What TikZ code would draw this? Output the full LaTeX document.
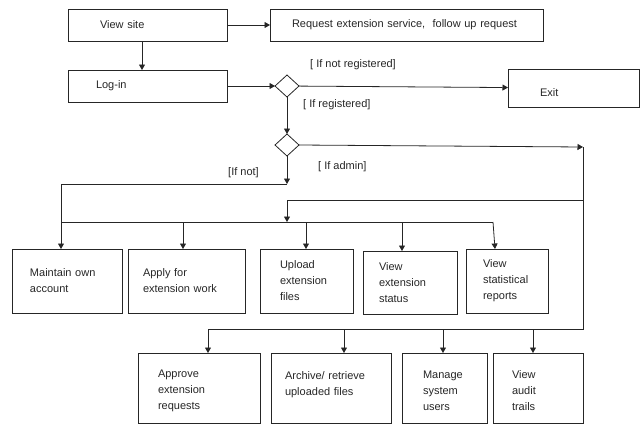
\documentclass[tikz,border=0pt]{standalone}
\usepackage{fontspec}
\setmainfont{Liberation Sans}
\usetikzlibrary{arrows.meta,shapes.geometric}

\tikzset{
  base/.style={line width=0.8pt, draw=black!85},
  pbox/.style={base, rectangle, align=left, inner ysep=0pt, outer sep=0pt,
               font=\fontsize{11}{16}\selectfont, text=black!85},
  lowtext/.style={text height=#1},
  choice/.style={base, diamond, minimum width=24pt, minimum height=22pt,
                 inner sep=0pt, outer sep=0pt},
  guard/.style={anchor=west, inner sep=0pt, font=\fontsize{11}{16}\selectfont, text=black!85},
  arr/.style={base, -{Triangle[length=5.5pt,width=6pt]}},
  wire/.style={base}
}

\begin{document}
\begin{tikzpicture}[x=1pt,y=-1pt]
\useasboundingbox (0,0) rectangle (643,424);

% entry and login
\node[pbox, text width=95pt, inner xsep=32pt, minimum height=32pt] (view) at (147.5,25) {View site};
\node[pbox, text width=229pt, inner xsep=22pt, minimum height=32pt] (req) at (406.5,25) {Request extension service,~ follow up request};
\node[pbox, text width=103pt, inner xsep=28pt, minimum height=32pt] (login) at (147.5,86) {Log-in};
\node[pbox, text width=67pt, inner xsep=32pt, minimum height=38pt, lowtext=17.5pt] (exit) at (573.5,88) {Exit};

% decisions
\node[choice] (d1) at (287,86) {};
\node[choice] (d2) at (287,145) {};

% user activities
\node[pbox, text width=74pt, inner xsep=18pt, minimum height=64pt] (maintain) at (67,281) {Maintain own\\account};
\node[pbox, text width=87pt, inner xsep=15pt, minimum height=64pt] (apply) at (186.5,281) {Apply for\\extension work};
\node[pbox, text width=53pt, inner xsep=20pt, minimum height=64pt] (upload) at (306.5,281) {Upload\\extension\\files};
\node[pbox, text width=62pt, inner xsep=16pt, minimum height=63pt] (vstatus) at (410,282.5) {View\\extension\\status};
\node[pbox, text width=48pt, inner xsep=17pt, minimum height=64pt] (vreports) at (507,281) {View\\statistical\\reports};

% admin activities
\node[pbox, text width=82pt, inner xsep=20pt, minimum height=70pt, lowtext=14pt] (approve) at (199,388) {Approve\\extension\\requests};
\node[pbox, text width=92pt, inner xsep=14pt, minimum height=70pt, lowtext=14pt] (archive) at (331,388) {Archive/ retrieve\\uploaded files\\~};
\node[pbox, text width=43pt, inner xsep=21pt, minimum height=70pt, lowtext=14pt] (manage) at (444.5,388) {Manage\\system\\users};
\node[pbox, text width=52pt, inner xsep=19pt, minimum height=70pt, lowtext=14pt] (audit) at (538,388) {View\\audit\\trails};

% guard labels
\node[guard] (gnotreg) at (310,65) {[ If not registered]};
\node[guard] (greg) at (303,105) {[ If registered]};
\node[guard] (gnot) at (228,173) {[If not]};
\node[guard] (gadmin) at (318,167) {[ If admin]};

% routing points
\coordinate (adminin) at (583,147);
\coordinate (adminbus) at (583,329);
\coordinate (adminsplit) at (583,200);
\coordinate (sharedin) at (287,200);
\coordinate (notadmin) at (287,184);
\coordinate (notleft) at (61,184);
\coordinate (userbusL) at (61,222);
\coordinate (userbusM) at (287,222);
\coordinate (userbusR) at (493,222);
\coordinate (u2) at (183,222);
\coordinate (u3) at (306,222);
\coordinate (u4) at (402,222);
\coordinate (a1) at (208,329);
\coordinate (a2) at (344,329);
\coordinate (a3) at (443,329);
\coordinate (a4) at (533,329);

% top flow
\draw[arr] (view) -- (req);
\draw[arr] ([xshift=-5.5pt]view.south) -- ([xshift=-5.5pt]login.north);
\draw[arr] (login) -- (d1);
\draw[arr] (d1) -- (exit);
\draw[arr] (d1) -- (d2);

% admin branch
\draw[arr] (d2.east) -- (adminin);
\draw[wire] (adminin) -- (adminbus) -- (a1);
\draw[arr] (adminsplit) -- (sharedin) -- (userbusM);

% non-admin branch
\draw[arr] (d2) -- (notadmin);
\draw[arr] (notadmin) -- (notleft) -- (notleft |- maintain.north);
\draw[wire] (userbusL) -- (userbusR);

% user activity arrows
\draw[arr] (u2) -- (u2 |- apply.north);
\draw[arr] (u3) -- (u3 |- upload.north);
\draw[arr] (u4) -- (u4 |- vstatus.north);
\draw[arr] (userbusR) -- ([xshift=2pt]userbusR |- vreports.north);

% admin activity arrows
\draw[arr] (a1) -- (a1 |- approve.north);
\draw[arr] (a2) -- (a2 |- archive.north);
\draw[arr] (a3) -- (a3 |- manage.north);
\draw[arr] (a4) -- (a4 |- audit.north);
\end{tikzpicture}
\end{document}
